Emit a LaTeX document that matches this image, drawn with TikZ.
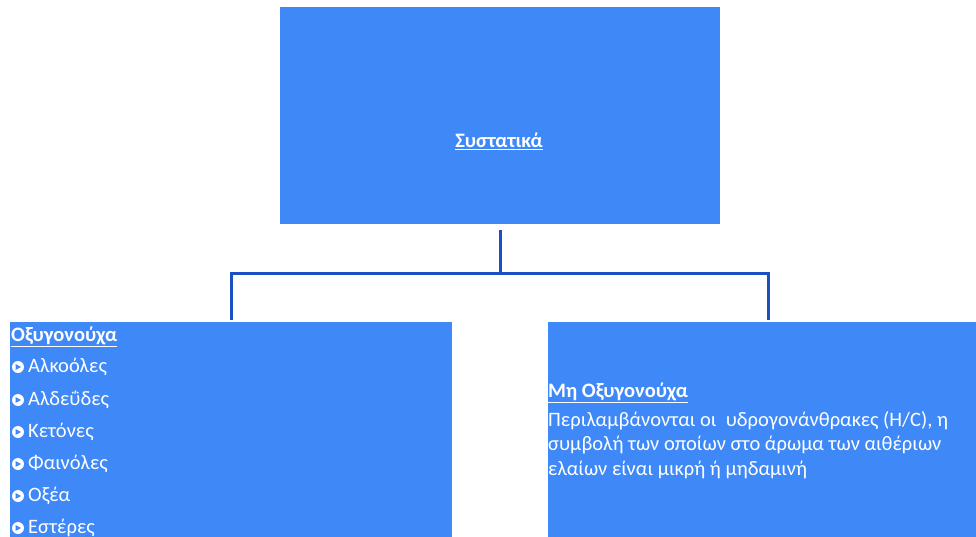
\documentclass[tikz,border=0pt]{standalone}
\usepackage{fontspec}
\setmainfont{Carlito}
\usetikzlibrary{positioning,calc}
\definecolor{boxblue}{HTML}{3F88F8}
\definecolor{lineblue}{HTML}{1C4FC4}
\tikzset{
  box/.style={fill=boxblue, draw=none, inner sep=0pt},
  conn/.style={draw=lineblue, line width=3pt},
  txt/.style={text=white, inner sep=0pt, font=\fontsize{20.5}{24}\selectfont},
  head/.style={txt, font=\fontsize{20.5}{24}\selectfont\bfseries},
  bul/.style={circle, fill=white, inner sep=0pt, minimum size=12pt},
}
\newcommand{\ul}[1]{\underline{#1}}
\begin{document}
\begin{tikzpicture}[x=1pt,y=-1pt]
\useasboundingbox (0,0) rectangle (976,537);
\fill[white] (0,0) rectangle (976,537);
% boxes
\node[box, minimum width=440pt, minimum height=217pt, anchor=north west] (top) at (280,7) {};
\node[box, minimum width=442pt, minimum height=220pt, anchor=north west] (left) at (10,322) {};
\node[box, minimum width=430pt, minimum height=220pt, anchor=north west] (right) at (548,322) {};
\node[head] (title) at (499,141) {\ul{Συστατικά}};
% connectors
\coordinate (hl) at (231,273);
\coordinate (hr) at (768,273);
\coordinate (hm) at (500,273);
\coordinate (tb) at (500,230);
\coordinate (lt) at (231,318);
\coordinate (rt) at (768,318);
\draw[conn] (tb) -- (hm);
\draw[conn, line cap=rect] (lt) -- (hl) -- (hr) -- (rt);
% left text
\node[head, anchor=west] (lh) at (11,337) {\ul{Οξυγονούχα}};
\foreach \t/\yy [count=\i] in {Αλκοόλες/367, Αλδεΰδες/400, Κετόνες/432, Φαινόλες/464, Οξέα/496, Εστέρες/528}{
  \node[bul] (b\i) at (18,\yy) {};
  \fill[boxblue] ($(b\i)+(-2.5,-3)$) -- ($(b\i)+(3,0)$) -- ($(b\i)+(-2.5,3)$) -- cycle;
  \node[txt, anchor=west] (it\i) at (28,\yy) {\t};
}
% right text
\node[head, anchor=west] (rh) at (548,393) {\ul{Μη Οξυγονούχα}};
\node[txt, anchor=north west, align=left, font=\fontsize{20.5}{24.5}\selectfont] (rp) at (548,411)
  {Περιλαμβάνονται οι\ \ υδρογονάνθρακες (H/C), η\\συμβολή των οποίων στο άρωμα των αιθέριων\\ελαίων είναι μικρή ή μηδαμινή};
\end{tikzpicture}
\end{document}
